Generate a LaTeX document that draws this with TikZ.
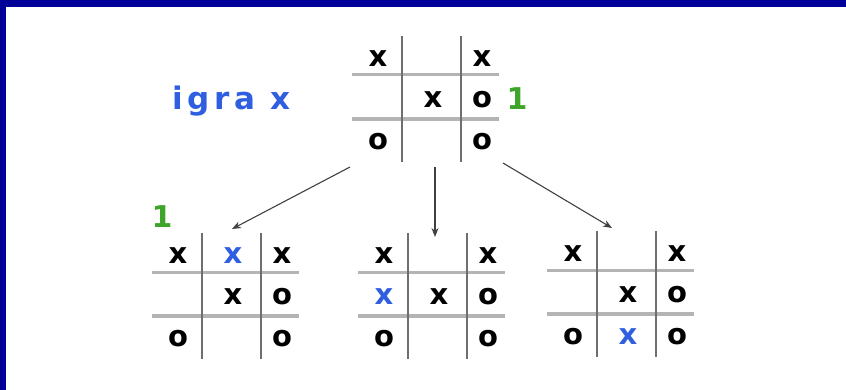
\documentclass[tikz,border=0pt]{standalone}
\usepackage{fontspec}
\setmainfont{DejaVu Sans}
\usepackage{tikz}
\usetikzlibrary{calc,arrows.meta}
\definecolor{frame}{HTML}{000099}
\definecolor{newx}{HTML}{2F5FE0}
\definecolor{win}{HTML}{3FA52A}
\definecolor{gridv}{HTML}{6E6E6E}
\definecolor{gridh}{HTML}{B4B4B4}
\tikzset{
  vl/.style={draw=gridv, line width=1.4pt},
  hl/.style={draw=gridh, line width=3pt},
  xo/.style={inner sep=0pt, font=\fontsize{29}{29}\bfseries\selectfont},
  newxo/.style={xo, text=newx},
  who/.style={inner sep=0pt, text=newx, font=\fontsize{31}{31}\bfseries\selectfont\addfontfeatures{LetterSpace=15}},
  score/.style={inner sep=0pt, text=win, font=\fontsize{30}{30}\bfseries\selectfont},
  move/.style={draw=black!75, line width=1.1pt, -{Stealth[length=9pt,width=7pt]}},
}
% one board: name, corner of first lines, marks (mark/col/row/style)
\newcommand{\board}[3]{%
  \coordinate (#1) at (#2);
  \draw[hl] ($(#1)+(-50,0)$) -- ($(#1)+(97,0)$);
  \draw[hl,line width=4pt] ($(#1)+(-50,44)$) -- ($(#1)+(97,44)$);
  \draw[vl] ($(#1)+(0,-39)$) -- ($(#1)+(0,87)$);
  \draw[vl] ($(#1)+(59,-39)$) -- ($(#1)+(59,87)$);
  \foreach \m/\c/\r/\s in {#3}{
    \pgfmathsetmacro\cx{{-24,31,80}[\c-1]}
    \pgfmathsetmacro\ry{{-16,25,67}[\r-1]}
    \node[\s] (#1-\c\r) at ($(#1)+(\cx,\ry)$) {\m};
  }}

\begin{document}
\begin{tikzpicture}[x=1pt,y=-1pt]
  \useasboundingbox (0,0) rectangle (846,390);
  % frame
  \fill[frame] (0,0) rectangle (846,7);
  \fill[frame] (0,0) rectangle (6,390);

  % boards
  \board{top}{402,75}{x/1/1/xo, x/3/1/xo, x/2/2/xo, o/3/2/xo, o/1/3/xo, o/3/3/xo}
  \board{left}{202,272}{x/1/1/xo, x/2/1/newxo, x/3/1/xo, x/2/2/xo, o/3/2/xo, o/1/3/xo, o/3/3/xo}
  \board{mid}{408,272}{x/1/1/xo, x/3/1/xo, x/1/2/newxo, x/2/2/xo, o/3/2/xo, o/1/3/xo, o/3/3/xo}
  \board{right}{597,270}{x/1/1/xo, x/3/1/xo, x/2/2/xo, o/3/2/xo, o/1/3/xo, x/2/3/newxo, o/3/3/xo}

  \node[who, anchor=base west] (turn) at (172,110) {igra x};
  \node[score] (s0) at (517,99) {1};
  \node[score] (s1) at (162,217) {1};

  % moves
  \coordinate (a1) at ($(top)+(-52,92)$);
  \coordinate (b1) at ($(left)+(30,-43)$);
  \coordinate (a2) at ($(top)+(33,92)$);
  \coordinate (b2) at ($(mid)+(27,-35)$);
  \coordinate (a3) at ($(top)+(101,88)$);
  \coordinate (b3) at ($(right)+(15,-42)$);
  \draw[move] (a1) -- (b1);
  \draw[move] (a2) -- (b2);
  \draw[move] (a3) -- (b3);
\end{tikzpicture}
\end{document}
